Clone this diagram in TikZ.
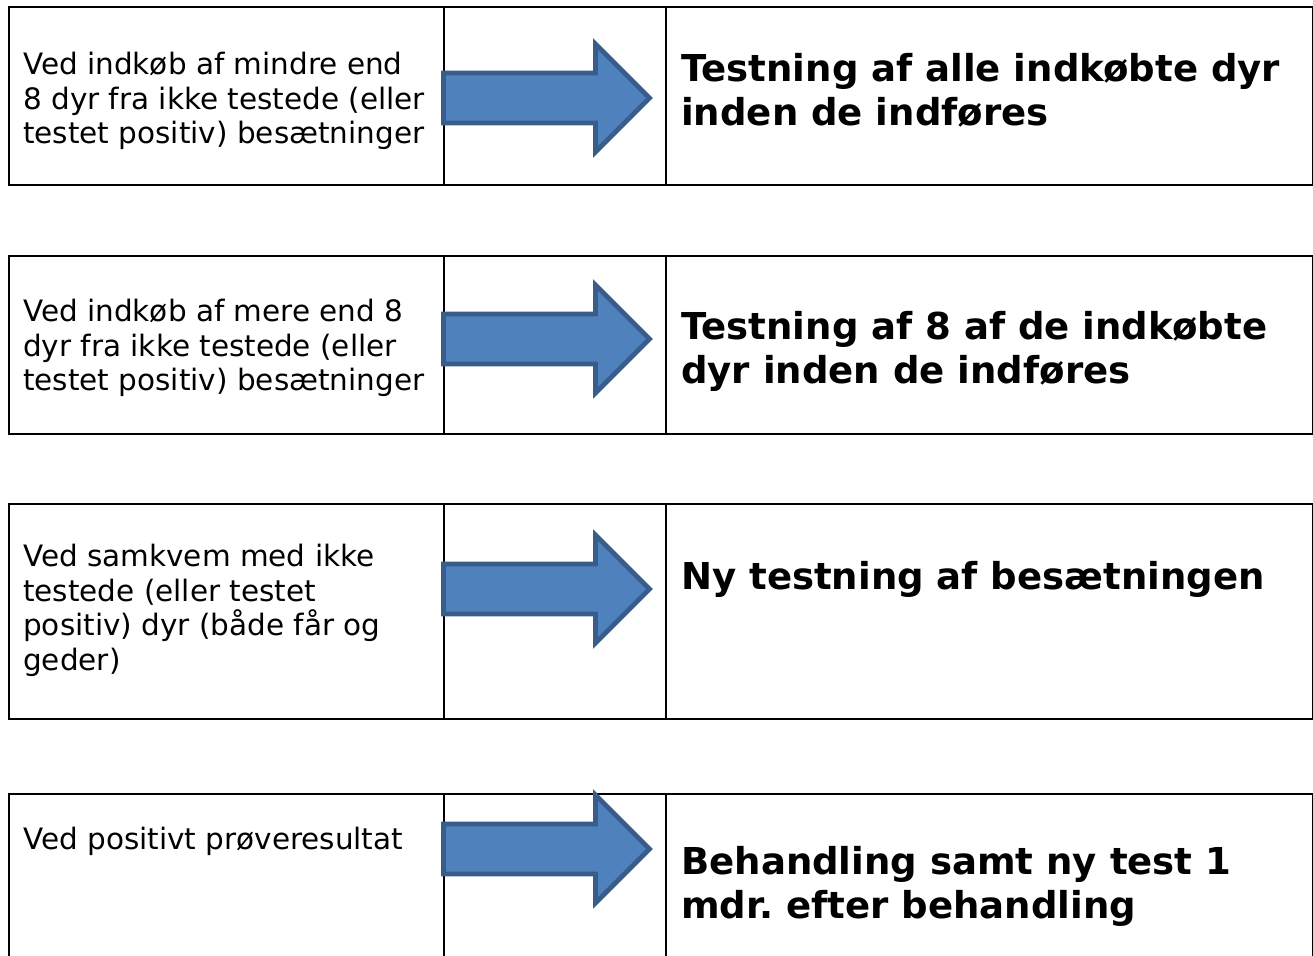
\documentclass[tikz,border=0pt]{standalone}
\usepackage{fontspec}
\setmainfont{DejaVu Sans}

\begin{document}
\begin{tikzpicture}
		[x=0.75pt,y=-0.75pt,line join=miter,
		%Styles
		cell/.style={draw,line width=1.5pt,inner sep=0pt,anchor=north west},
		left cell/.style={cell,minimum width=326.25pt,minimum height=#1},
		mid cell/.style={cell,minimum width=166.5pt,minimum height=#1},
		right cell/.style={cell,minimum width=485.25pt,minimum height=#1},
		cond text/.style={anchor=north west,inner sep=0pt,align=left,
			font=\fontsize{22.1}{25.9}\selectfont},
		action text/.style={anchor=north west,inner sep=0pt,align=left,
			font=\bfseries\fontsize{27.8}{33.4}\selectfont},
		big arrow/.style={draw=arrowline,fill=arrowfill,line width=3.5pt}
		]
		
		%Colors
		\definecolor{arrowfill}{HTML}{4F81BD}	%arrow body
		\definecolor{arrowline}{HTML}{385D8A}	%arrow outline
		
		\useasboundingbox (0,0) rectangle (1313,956);
		
		%Row 1
		\node[left cell=133.5pt]  (l1) at (8,6)   {};
		\node[mid cell=133.5pt]   (m1) at (443,6) {};
		\node[right cell=133.5pt] (r1) at (665,6) {};
		\node[cond text] (c1) at (23,52)
			{Ved indkøb af mindre end\\8 dyr fra ikke testede (eller\\testet positiv) besætninger};
		\node[action text] (t1) at (681,53)
			{Testning af alle indkøbte dyr\\inden de indføres};
		
		%Row 2
		\node[left cell=133.5pt]  (l2) at (8,255)   {};
		\node[mid cell=133.5pt]   (m2) at (443,255) {};
		\node[right cell=133.5pt] (r2) at (665,255) {};
		\node[cond text] (c2) at (23,299)
			{Ved indkøb af mere end 8\\dyr fra ikke testede (eller\\testet positiv) besætninger};
		\node[action text] (t2) at (681,311)
			{Testning af 8 af de indkøbte\\dyr inden de indføres};
		
		%Row 3
		\node[left cell=161.25pt]  (l3) at (8,503)   {};
		\node[mid cell=161.25pt]   (m3) at (443,503) {};
		\node[right cell=161.25pt] (r3) at (665,503) {};
		\node[cond text] (c3) at (23,544)
			{Ved samkvem med ikke\\testede (eller testet\\positiv) dyr (både får og\\geder)};
		\node[action text] (t3) at (681,561)
			{Ny testning af besætningen};
		
		%Row 4
		\node[left cell=150pt]  (l4) at (8,793)   {};
		\node[mid cell=150pt]   (m4) at (443,793) {};
		\node[right cell=150pt] (r4) at (665,793) {};
		\node[cond text] (c4) at (23,827)
			{Ved positivt prøveresultat};
		\node[action text] (t4) at (681,846)
			{Behandling samt ny test 1\\mdr.\ efter behandling};
		
		%Arrows
		\foreach \y in {98,339,589,849}
			\draw[big arrow] (443.5,\y) ++(0,-25) -- ++(152,0) -- ++(0,-29)
				-- ++(54,54) -- ++(-54,54) -- ++(0,-29) -- ++(-152,0) -- cycle;
	\end{tikzpicture}
\end{document}
